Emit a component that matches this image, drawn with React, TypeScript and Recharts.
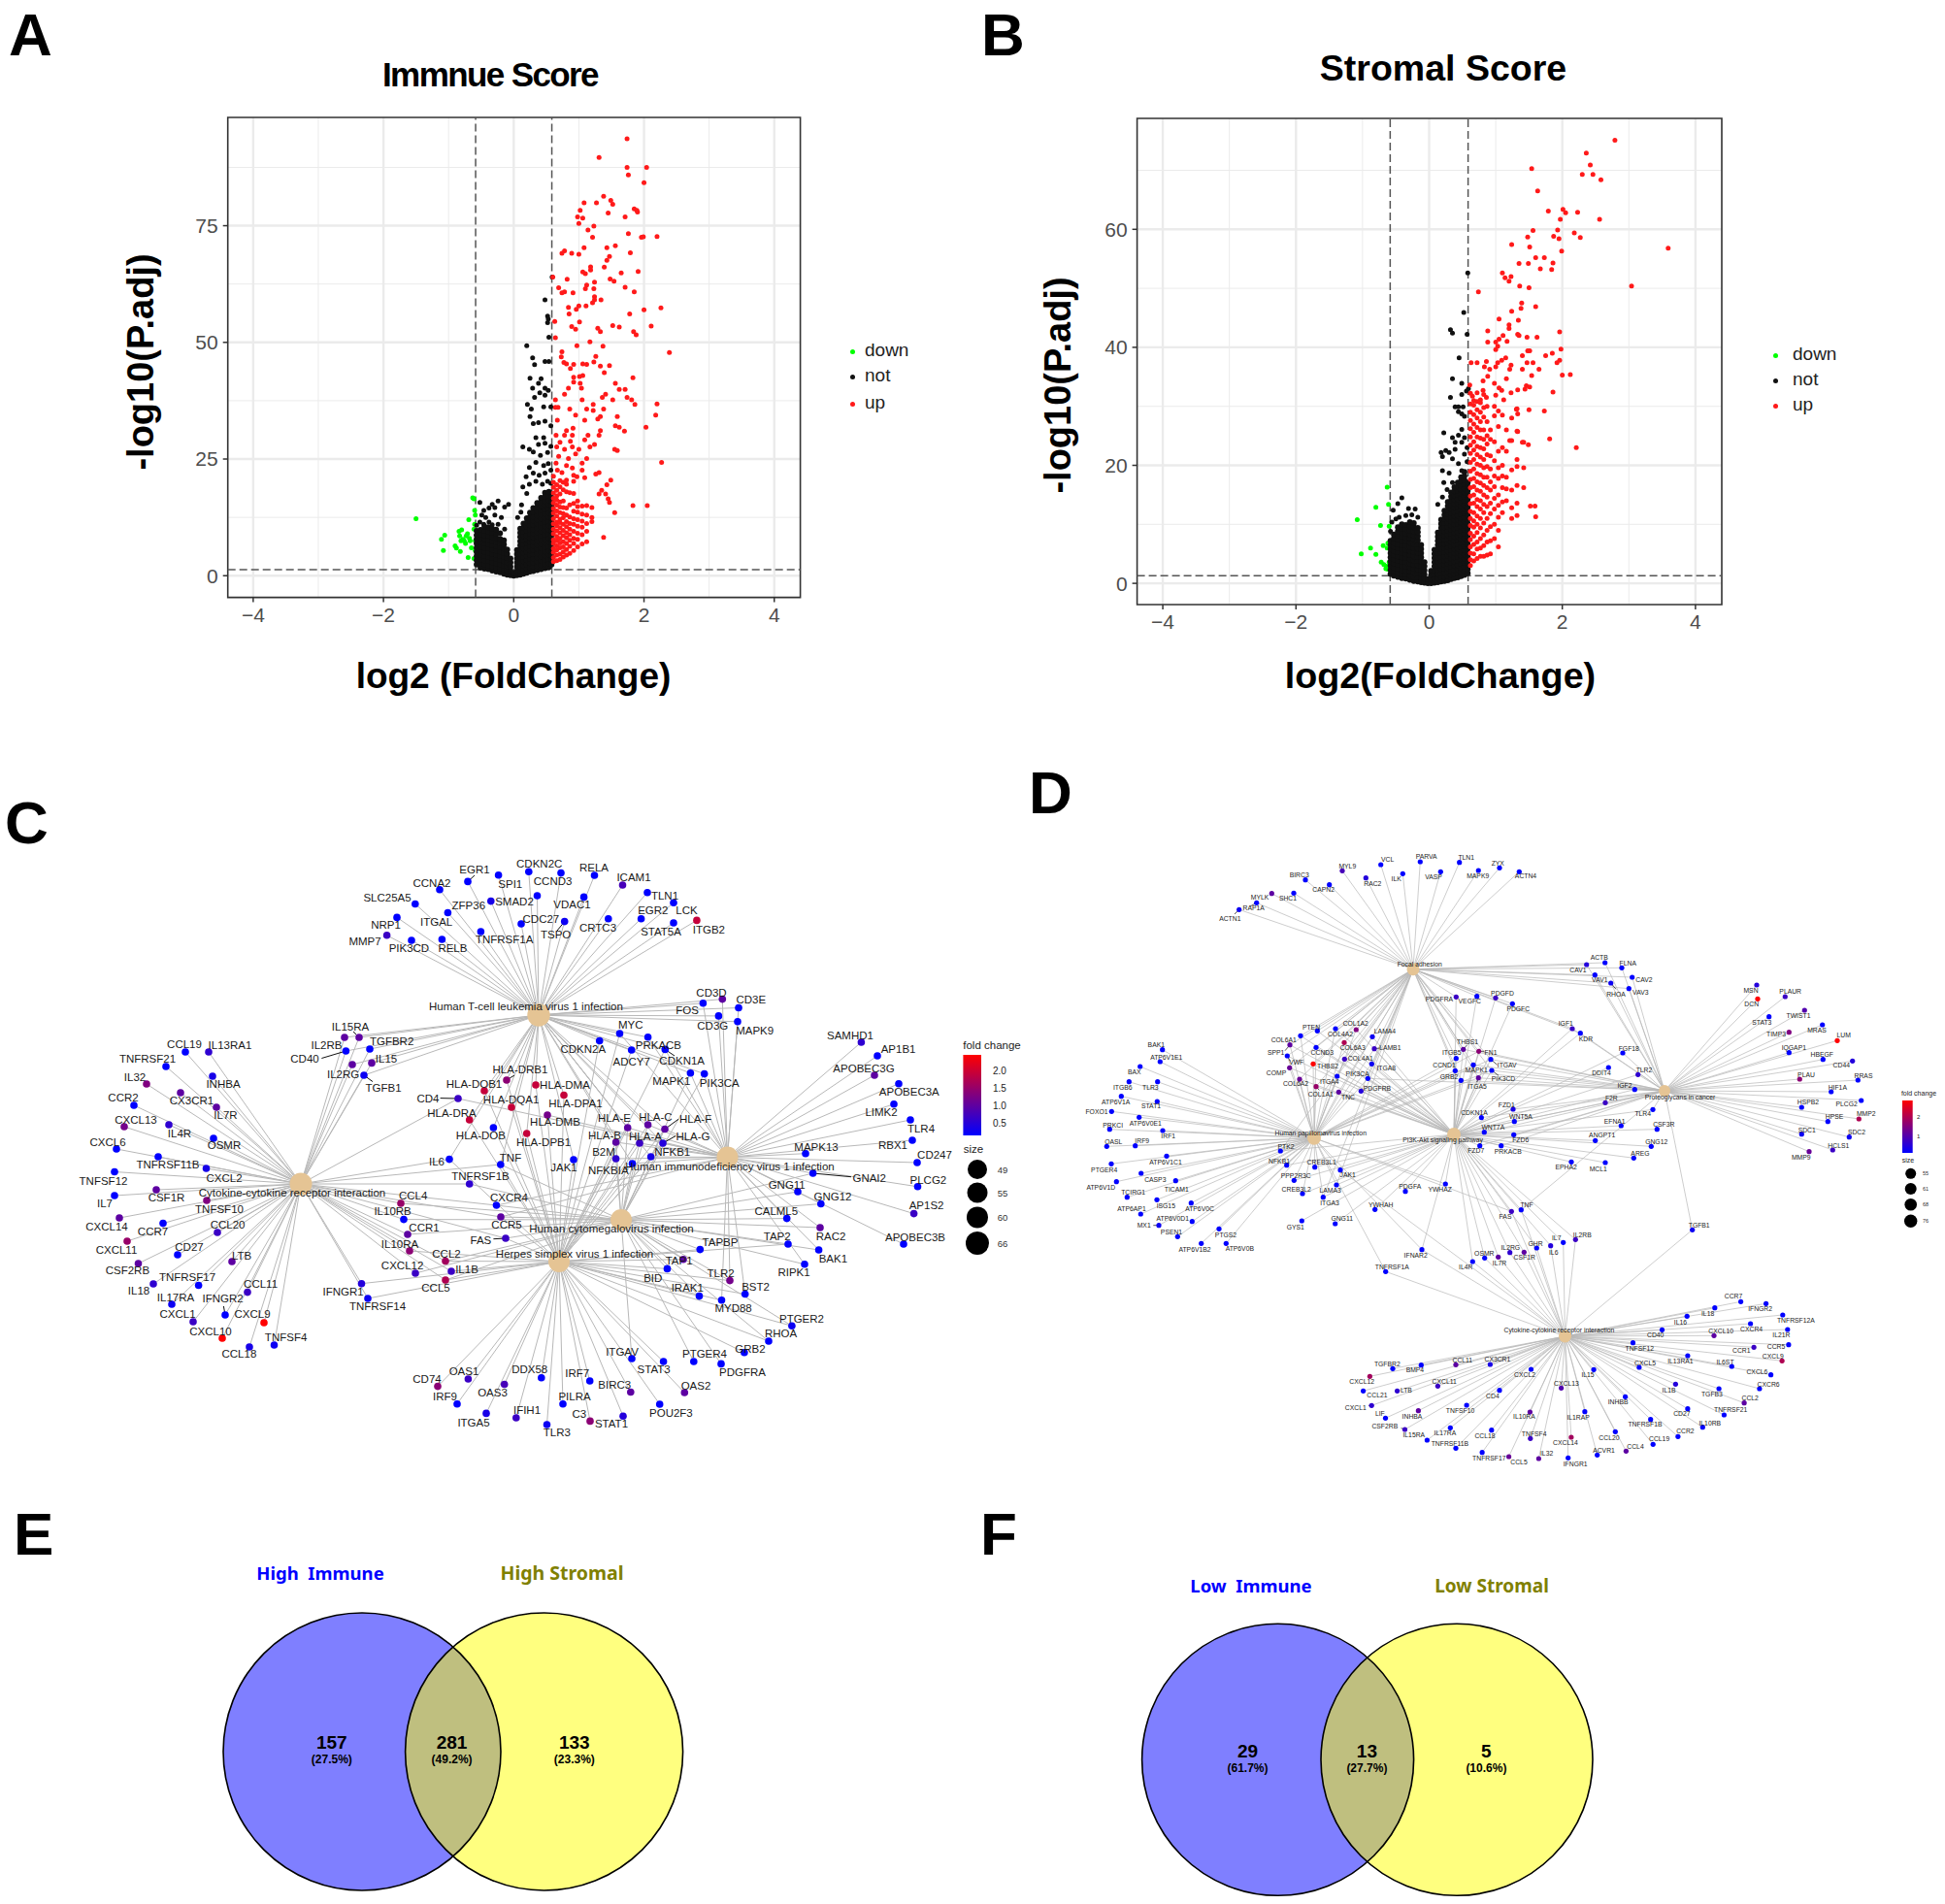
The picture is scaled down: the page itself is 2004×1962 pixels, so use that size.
import {
  CartesianGrid,
  Legend,
  ReferenceArea,
  ReferenceLine,
  Scatter,
  ScatterChart,
  XAxis,
  YAxis,
} from "recharts";

const SANS = "'Liberation Sans', Arial, sans-serif";
const NOTO = "'Noto Sans', sans-serif";

type Col = [number, number[]];
type Pt = [number, number];

// panel A: -log10(P.adj) against log2 fold change
const downA: Pt[] = [[-1.5,12.2],[-1.11,7.8],[-1.06,8.7],[-1.08,5.4],[-.9,6.4],[-.88,5.9],[-.84,9.5],[-.83,8.5],[-.81,7.5],[-.82,5.2],[-.76,7.5],[-.74,6.9],[-.71,9],[-.69,12],[-.68,8],[-.67,7.5],[-.7,3.9],[-.63,16.7],[-.61,16.5],[-.6,14],[-.59,13],[-.6,11],[-.61,10],[-.59,7.5],[-.61,3.7],[-.65,6],[-.78,7.8],[-.73,8.5],[-.59,5.4],[-.8,9.8]];
const notSparseA: Pt[] = [[.59,64],[.48,59.1],[.52,55.6],[.53,55],[.52,54.2],[.54,51.1],[.2,49.3],[.29,46.7],[.32,45.2],[.48,45.9],[.54,45.9],[.25,42.3],[.42,42.2],[.38,41.2],[.29,40.2],[.48,40.2],[.53,39.7],[.4,39.2],[.32,38.2],[.48,38.7],[.21,36.7],[.27,35.7],[.46,36.2],[.57,36.2],[.25,34.1],[.3,32.6],[.38,32.8],[.48,33.1],[.57,32.1],[.34,29.6],[.46,29.6],[.38,28.1],[.14,27.6],[.24,27.1],[.48,28.4],[.3,26.5],[.41,25.8],[.52,26.4],[.57,27.7],[.34,24.3],[.46,23.6],[.24,23.2],[.53,24],[.19,21.2],[.3,22],[.39,21.5],[.48,22],[.57,22.6],[.14,19],[.24,19.6],[.34,20.2],[.44,19.6],[.52,20.2],[.57,19.8],[.2,17.6],[.12,15.2],[-.52,15.7],[-.38,14.5],[-.33,15.3],[-.24,16],[-.08,15.3],[-.14,14.7],[-.49,13],[-.43,12.5],[-.29,13],[-.19,12.5],[-.52,11.5],[-.38,11.5],[-.24,11],[-.57,10.8],[-.46,11],[-.33,10.9],[-.14,10],[-.46,14],[-.29,14.6],[.06,12.5],[.11,13.6]];
const notColsA: Col[] = [
  [-.57,[2.4,3.3,4.2,5.1,6,6.9,7.8,8.7,9.6]],
  [-.51,[1.7,2.6,3.5,4.4,5.3,6.2,7.1,8,8.9,9.8]],
  [-.45,[1.5,2.4,3.3,4.2,5.1,6,6.9,7.8,8.7,9.6,10.5]],
  [-.39,[1.4,2.3,3.2,4.1,5,5.9,6.8,7.7,8.6,9.5,10.4]],
  [-.33,[1.1,2,2.9,3.8,4.7,5.6,6.5,7.4,8.3,9.2,10.1]],
  [-.27,[.9,1.8,2.7,3.6,4.5,5.4,6.3,7.2,8.1,9,9.9]],
  [-.21,[.7,1.6,2.5,3.4,4.3,5.2,6.1,7,7.9,9.1]],
  [-.15,[.4,1.3,2.2,3.1,4,4.9,5.8,6.7,7.6]],
  [-.1,[.2,1.1,2,2.9,3.8,4.7,5.6]],
  [-.05,[.1,1,1.9,2.8,3.7]],
  [0,[0,.6]],
  [.05,[.1,1,1.9,2.8,3.7,4.6,5.5]],
  [.1,[.2,1.1,2,2.9,3.8,4.7,5.6,6.5,7.4,8.3,9.2,10.1]],
  [.15,[.4,1.3,2.2,3.1,4,4.9,5.8,6.7,7.6,8.5,9.4,10.3,11.2]],
  [.2,[.6,1.5,2.4,3.3,4.2,5.1,6,6.9,7.8,8.7,9.6,10.5,11.4,12.3]],
  [.25,[.9,1.8,2.7,3.6,4.5,5.4,6.3,7.2,8.1,9,9.9,10.8,11.7,12.6,13.5]],
  [.3,[1,1.9,2.8,3.7,4.6,5.5,6.4,7.3,8.2,9.1,10,10.9,11.8,12.7,13.6,14.5]],
  [.36,[1.2,2.1,3,3.9,4.8,5.7,6.6,7.5,8.4,9.3,10.2,11.1,12,12.9,13.8,14.7,15.6]],
  [.42,[1.4,2.3,3.2,4.1,5,5.9,6.8,7.7,8.6,9.5,10.4,11.3,12.2,13.1,14,14.9,15.8,16.7]],
  [.48,[1.6,2.5,3.4,4.3,5.2,6.1,7,7.9,8.8,9.7,10.6,11.5,12.4,13.3,14.2,15.1,16,16.9,17.8]],
  [.54,[1.8,2.7,3.6,4.5,5.4,6.3,7.2,8.1,9,9.9,10.8,11.7,12.6,13.5,14.4,15.3,16.2,17.1,18]],
  [.58,[2.4,3.3,4.2,5.1,6,6.9,7.8,8.7,9.6,10.5,11.4,12.3,13.2,14.1,15,15.9,16.8]],
];
const upSparseA: Pt[] = [[1.74,93.6],[1.31,89.6],[1.74,87.5],[2.04,87.5],[1.76,85.9],[2,84.2],[1.38,81.3],[1.27,79.9],[1.08,79.9],[1.49,80.4],[1.52,79.6],[1.85,78.6],[1.89,78.3],[1.9,77.9],[1.45,77.7],[1.71,76.9],[1.02,78.3],[.98,76.9],[1.06,76.6],[1,75.5],[1.23,74.9],[1.14,74.1],[1.21,72.5],[1.76,73.3],[1.96,72.5],[1.99,72.6],[2.2,72.7],[1.56,70.7],[1.43,70.3],[1.08,70.3],[.78,69.6],[.74,69.1],[.89,69.1],[1,68.9],[1.79,69.2],[1.47,68.4],[1.43,67.6],[1.39,66.1],[1.18,66.2],[1.18,65.5],[1.06,65.1],[1.1,64.7],[1.65,64.9],[1.91,65.2],[.6,64],[.82,63.5],[1.48,63.6],[1.54,63.1],[1.24,62.9],[1.12,62.3],[.69,61.7],[1.1,61.5],[1.23,61.5],[1.71,61.8],[1.85,60.8],[.74,60.6],[.78,60.8],[.91,60.6],[1.24,59.8],[1.24,59.1],[1.34,59.1],[1.21,58.5],[1.11,57.8],[1,57.8],[.84,57.5],[.96,57.1],[.85,56.1],[2.26,57.4],[2,57],[1.78,56.1],[.63,54.5],[1.01,54.4],[.89,53.4],[.95,52.8],[1.29,53],[1.33,52.3],[1.52,53.6],[1.62,53.3],[2.11,53.5],[1.84,52.3],[1.88,51.6],[.64,51],[1.17,50.1],[.97,49.3],[1.37,49.2],[2.39,47.8],[.74,48],[1.26,47],[.73,46.9],[.77,45.7],[.81,45.4],[.92,45.3],[1.06,45.4],[1.12,45.3],[1.23,45.8],[1.33,44.9],[1.47,45],[1.39,43.5],[.87,44.4],[1.06,42.9],[1.01,42.7],[.92,42.5],[1.83,42.4],[.92,41.5],[1.02,41.2],[1.04,40.2],[.84,40.2],[1.56,41.2],[1.62,39.9],[1.71,39.9],[1.41,38.9],[1.36,38.2],[1.52,37.7],[1.74,38.2],[1.81,37.7],[.64,37.7],[.78,38.9],[1.05,37.7],[1.22,36.7],[1.86,36.7],[2.2,36.8],[.64,36.1],[.68,36.1],[.86,35.7],[1.12,35.7],[1.22,35.4],[1.38,35.7],[.95,34.4],[2.18,34.4],[1.59,34.1],[1.33,34.1],[1.29,33.6],[.67,33.3],[1.09,33.3],[2.03,31.8],[1.56,32.1],[1.62,31.8],[1.7,31],[.91,31.6],[.81,31.1],[1.33,31.1],[.65,30.1],[1.14,30.1],[.78,30.1],[.9,30.1],[.71,28.6],[.87,28.8],[1.09,29.1],[1.31,30.1],[1.24,28.1],[.66,27.6],[.9,27.6],[.78,27.1],[1,27.1],[1.17,27.6],[1.55,27.1],[1.59,26.8],[.95,26.1],[.69,25.6],[.84,25.1],[2.27,24.3],[1.12,25.1],[.65,24.1],[1.05,24.1],[.9,23.1],[.81,23.6],[.67,22.6],[.74,22.1],[1.05,22.6],[1.31,22.1],[1.26,21.8],[1.09,21],[.97,21.2],[1.49,20.5],[1.43,19.5],[1.35,18.3],[1.31,17.5],[1.41,17.5],[1.45,16.5],[1.47,15.7],[1.55,13.5],[1.83,15],[2.05,15],[1.38,8.2]];
const upColsA: Col[] = [
  [.61,[3,3.9,5,5.8,6.9,7.7,9,10,11.1,12.2,13.4,14.4,15.6,16.6,17.7,18.9,20,21.3]],
  [.66,[3.2,4.4,5.5,6.4,7.5,8.4,9.6,10.7,11.5,12.8,13.9,15.1,16.2,17.1,18.3,19.5]],
  [.71,[3.5,4.6,6,7,8,9.2,10.3,11.4,12.1,13.5,14.7,15.8,17.5,19,20.4]],
  [.76,[4,5.1,6.2,7.3,8.6,9.7,11,12.4,13.3,14.6,16,18.4,20]],
  [.81,[4.4,5.6,6.9,8.1,9.2,10.5,11.6,13,14.5,18,19.6,20.5]],
  [.86,[4.8,6.3,7.6,8.8,10,11.2,12.6,15.2,17.8]],
  [.92,[5.4,6.9,8,9.5,11,12.2,13.8,15.5,17.6,20.2,21.5]],
  [.98,[6.2,7.8,9.1,10.6,12,13.6,14.8,16]],
  [1.05,[6.8,8.8,10.4,11.7,13.2,14.9]],
  [1.12,[7.3,9.5,11.2,13,15]],
  [1.2,[11.6,12.5,14.6]],
];

// panel B
const downB: Pt[] = [[-1.08,10.8],[-1.02,5],[-.88,6],[-.8,4.9],[-.8,12.9],[-.73,9.8],[-.69,6.4],[-.72,3.6],[-.68,3.2],[-.65,2.5],[-.62,2.4],[-.63,16.3],[-.61,13.4],[-.6,9.7],[-.62,6.8],[-.63,6],[-.6,3.6],[-.64,2.9]];
const notSparseB: Pt[] = [[.58,52.6],[.52,45.9],[.32,43],[.35,42.4],[.57,42.2],[.45,38.2],[.35,34.7],[.49,33.9],[.59,33],[.56,32.6],[.49,32],[.32,31.5],[.39,29.9],[.44,29.9],[.51,29.9],[.44,29.1],[.49,28.7],[.53,28.3],[.22,25.5],[.49,26.1],[.44,25.1],[.53,24.7],[.35,24.7],[.49,23.9],[.39,23.9],[.18,22.2],[.25,22.5],[.3,22.2],[.39,22.7],[.2,21.5],[.35,21.1],[.53,21.9],[.44,20.3],[.3,18.7],[.2,19.1],[.49,19.1],[.57,20.6],[.57,23],[.22,17.1],[.35,17.1],[.27,15.9],[.13,13.4],[.2,14.6],[-.41,14.5],[-.47,13.5],[-.54,12.4],[-.31,12.7],[-.21,12.6],[-.35,11.5],[-.45,11.2],[-.26,11.6],[-.17,11.2],[-.56,10.4],[-.5,10.9],[-.58,8.8]];
const notColsB: Col[] = [
  [-.58,[1.6,2.3,3,3.7,4.4,5.1,5.8,6.5,7.2]],
  [-.53,[1.3,2,2.7,3.4,4.1,4.8,5.5,6.2,6.9,7.6,8.3]],
  [-.47,[1.1,1.8,2.5,3.2,3.9,4.6,5.3,6,6.7,7.4,8.1,8.8,9.5]],
  [-.41,[.9,1.6,2.3,3,3.7,4.4,5.1,5.8,6.5,7.2,7.9,8.6,9.3,10]],
  [-.35,[.8,1.5,2.2,2.9,3.6,4.3,5,5.7,6.4,7.1,7.8,8.5,9.2,9.9]],
  [-.29,[.6,1.3,2,2.7,3.4,4.1,4.8,5.5,6.2,6.9,7.6,8.3,9,9.7,10.4]],
  [-.23,[.4,1.1,1.8,2.5,3.2,3.9,4.6,5.3,6,6.7,7.4,8.1,8.8,9.5,10.2]],
  [-.17,[.3,1,1.7,2.4,3.1,3.8,4.5,5.2,5.9,6.6,7.3,8,8.7,9.4]],
  [-.12,[.2,.9,1.6,2.3,3,3.7,4.4,5.1,5.8,6.5]],
  [-.07,[.1,.8,1.5,2.2,2.9,3.6]],
  [-.02,[0,.7]],
  [.03,[0,.7,1.4,2.1]],
  [.08,[.1,.8,1.5,2.2,2.9,3.6,4.3,5,5.7]],
  [.13,[.2,.9,1.6,2.3,3,3.7,4.4,5.1,5.8,6.5,7.2,7.9,8.6]],
  [.18,[.3,1,1.7,2.4,3.1,3.8,4.5,5.2,5.9,6.6,7.3,8,8.7,9.4,10.1,10.8]],
  [.23,[.4,1.1,1.8,2.5,3.2,3.9,4.6,5.3,6,6.7,7.4,8.1,8.8,9.5,10.2,10.9,11.6,12.3]],
  [.28,[.5,1.2,1.9,2.6,3.3,4,4.7,5.4,6.1,6.8,7.5,8.2,8.9,9.6,10.3,11,11.7,12.4,13.1,13.8]],
  [.33,[.7,1.4,2.1,2.8,3.5,4.2,4.9,5.6,6.3,7,7.7,8.4,9.1,9.8,10.5,11.2,11.9,12.6,13.3,14,14.7,15.4]],
  [.38,[.9,1.6,2.3,3,3.7,4.4,5.1,5.8,6.5,7.2,7.9,8.6,9.3,10,10.7,11.4,12.1,12.8,13.5,14.2,14.9,15.6,16.3]],
  [.43,[1,1.7,2.4,3.1,3.8,4.5,5.2,5.9,6.6,7.3,8,8.7,9.4,10.1,10.8,11.5,12.2,12.9,13.6,14.3,15,15.7,16.4,17.1]],
  [.48,[1.2,1.9,2.6,3.3,4,4.7,5.4,6.1,6.8,7.5,8.2,8.9,9.6,10.3,11,11.7,12.4,13.1,13.8,14.5,15.2,15.9,16.6,17.3,18]],
  [.53,[1.4,2.1,2.8,3.5,4.2,4.9,5.6,6.3,7,7.7,8.4,9.1,9.8,10.5,11.2,11.9,12.6,13.3,14,14.7,15.4,16.1,16.8,17.5,18.2,18.9]],
  [.58,[1.7,2.4,3.1,3.8,4.5,5.2,5.9,6.6,7.3,8,8.7,9.4,10.1,10.8,11.5,12.2,12.9,13.6,14.3,15,15.7,16.4,17.1]],
];
const upSparseB: Pt[] = [[2.79,75.1],[2.36,72.9],[2.42,70.9],[1.54,70.3],[2.3,69.3],[2.46,69.3],[2.58,68.4],[1.63,66.5],[1.79,63.1],[2.01,63.4],[2.05,62.8],[2.23,62.9],[1.97,61.7],[2.56,61.7],[1.93,59.9],[1.56,59.8],[1.48,58.7],[2.18,59.4],[2.27,58.6],[1.87,58.8],[1.95,58.4],[1.24,57.4],[1.51,57],[3.59,56.8],[1.99,56.3],[1.6,55.2],[1.73,55.2],[1.35,54.2],[1.49,54.2],[1.86,54.3],[1.67,53.3],[1.84,53.2],[1.1,52.6],[1.23,52],[1.14,51.8],[1.2,51.2],[3.04,50.4],[1.36,50.4],[1.5,50.1],[.74,49.4],[1.39,47.5],[1.6,46.9],[1.38,46.6],[1.24,46.1],[1.05,44.8],[1.34,44.6],[1.2,43.8],[1.2,43.2],[.88,42.8],[1.96,42.6],[1.33,42.2],[1.35,42],[1.11,42],[1.05,41.4],[1.47,41.7],[1.62,41.7],[.88,40.9],[1,40.9],[1.17,41],[1.03,40.2],[1,39.6],[1.48,39.4],[1.51,39.4],[1.98,39.7],[1.85,39],[1.75,38.6],[1.4,38.6],[1.15,38.2],[1.96,37.8],[1.92,37.4],[.63,37.4],[.72,37.4],[.86,37.6],[1.03,37.4],[1.09,37.8],[1.23,37],[1.47,37.4],[1.56,37.4],[.83,36.7],[.91,36.3],[1,36.7],[1.21,36.3],[1.4,36.3],[1.65,36.3],[1.54,35.2],[2,35.3],[2.12,35.4],[.88,35.1],[.98,33.9],[1.16,34.7],[1.46,33.5],[1.51,33.3],[.61,33.6],[.81,34.3],[1.05,33.1],[1.33,32.8],[1.09,32.7],[1.44,32.9],[1.86,32.4],[.72,32.3],[.81,32.7],[1.23,32.3],[1,31.9],[1.12,31.1],[.65,31.7],[.77,31.1],[.86,31.5],[1.73,29.2],[1.5,29.4],[1.31,29.5],[1.33,28.7],[1.81,24.5],[2.21,23],[1.49,23.5],[1.4,23.9],[1.21,24.2],[1.33,25.7],[1.59,13.1],[1.52,13.1],[1.6,11.3]];
const upColsB: Col[] = [
  [.62,[3,4,5.1,6.2,7.4,8.5,9.8,11,12.2,13.5,14.8,16.2,17.6,19,20.5,22,23.4,24.8,26.2,27.6,29,30.4,32.2]],
  [.67,[3.8,5,6.6,8,9.5,10.6,12,13.6,15,16.4,17.8,19.4,21,22.6,24,25.6,27,28.6,30.2,31]],
  [.72,[4.2,5.8,7,8.6,10,11.4,13,14.2,15.8,17.2,18.6,20.2,21.8,23.2,24.8,26.4,28,29.4,30.8]],
  [.77,[4.6,6,7.6,9.4,11,12.6,14,15.6,17,18.4,20,21.4,23,24.6,26,27.4,29,30.6]],
  [.82,[4.6,6.4,8.2,10.2,12,13.4,15,16.6,18,19.6,21,22.8,24.4,26,28.2,29.8,32]],
  [.87,[4.8,7,9,11,13,14.6,16.2,18,19.8,21.8,23.6,25,27.4,30]],
  [.92,[5,7.2,9.6,11.8,13.6,15.8,17.2,19.4,21.6,24.4,26]],
  [.98,[7.6,10,12.6,14.4,16.4,18.2,20.8,24,28.4,30]],
  [1.04,[6.2,9,11.2,13.2,15,17.8,19.6,22.4,26.6,29.2]],
  [1.1,[12,13.8,16.2,18.2,20,23,28.5]],
  [1.16,[14,16,18,22.4,26]],
  [1.24,[11,12.8,15.8,19.2,24.2,28]],
  [1.32,[11.5,13.6,16.6,19.8,21,25.8,29.6]],
  [1.42,[16.2,19.6,23.9]],
];

const xTicks = [-4, -2, 0, 2, 4];
const xMinor = [-3, -1, 1, 3];
const yTicksA = [0, 25, 50, 75];
const yMinorA = [12.5, 37.5, 62.5, 87.5];
const yTicksB = [0, 20, 40, 60];
const yMinorB = [10, 30, 50, 70];
const fcCut = [-0.585, 0.585];
const padjCut = 1.3;

// network layouts: [gene, node x, node y, label x, label y, fold change, hubs]
type Gene = [string, number, number, number, number, number, string];
type Hub = [string, string, number, number, number, number, number];

const hubsC: Hub[] = [
  ["c", "Cytokine-cytokine receptor interaction", 310, 1220, 301, 1229, 11.5],
  ["t", "Human T-cell leukemia virus 1 infection", 555, 1046, 542, 1037, 11.7],
  ["h", "Human immunodeficiency virus 1 infection", 749.5, 1192.5, 752, 1202, 11],
  ["m", "Human cytomegalovirus infection", 640, 1257, 630, 1265.5, 11],
  ["s", "Herpes simplex virus 1 infection", 576, 1300, 592, 1292, 11],
];
const genesC: Gene[] = [
  ["CCL19",191,1084,190,1076,.2,"c"],["IL13RA1",215,1084,237,1077,.6,"c"],["TNFRSF21",171,1099,152,1091,.2,"c"],["INHBA",219,1109,230,1117,.4,"c"],["IL32",151,1117,139,1110,1.3,"c"],["CX3CR1",186,1126,197.5,1134,1,"c"],["IL7R",223,1141,232.5,1149,1,"c"],["CCR2",138,1139,127,1131,.2,"c"],["CXCL13",128,1161,140,1153.5,1.2,"c"],["IL4R",174,1159,185,1168,.6,"c"],["OSMR",220,1173,231,1180,.2,"c"],["CXCL6",120,1184,111,1177,.2,"c"],["TNFRSF11B",163,1192,173,1199.5,.2,"c"],["CXCL2",212.5,1204,231,1214,.4,"c"],["TNFSF12",118,1207.5,106.5,1217,.2,"c"],["CSF1R",161,1226,171.5,1234,1,"c"],["IL7",118,1232,108,1240,.2,"c"],["TNFSF10",213,1237,226,1245.5,1.3,"c"],["CXCL14",123,1255,110,1264,1,"c"],["CCR7",168,1260.6,157.5,1269,.2,"c"],["CCL20",224,1270,234.6,1262,.7,"c"],["CXCL11",131,1279,120,1288,1.5,"c"],["CD27",183,1293,195,1285,.2,"c"],["CSF2RB",142.5,1302,131.4,1309,1,"c"],["LTB",239,1300,249,1293.6,1,"c"],["TNFRSF17",204.6,1324.5,193,1316.4,.2,"c"],["IL18",158,1323,143,1330,.6,"c"],["CCL11",255,1331.6,268.6,1323,.7,"c"],["IL17RA",177,1344,181,1336.5,.3,"c"],["IFNGR2",232,1355,229.6,1338,.2,"c"],["CXCL9",272,1363,260,1354,2.4,"c"],["CXCL1",199,1362,183,1354,.7,"c"],["CXCL10",229,1379,217,1372,2.4,"c"],["TNFSF4",282.5,1386,294.6,1378,.3,"c"],["CCL18",257,1388,246.4,1395,.4,"c"],
  ["IL15RA",370,1069,361,1058,1,"ct"],["IL2RB",355,1069,336.5,1077,1,"ct"],["TGFBR2",381,1081,403.6,1073,.2,"ct"],["CD40",356.4,1083,314,1091.4,.2,"ct"],["IL15",383,1095.4,398,1090.5,1,"ct"],["IL2RG",363,1097,353.6,1106.6,1,"ct"],["TGFB1",375,1108,395,1121,.3,"ct"],["CD4",472,1132,441,1131.6,.7,"ch"],
  ["HLA-DRB1",522,1113,536,1102.4,1.4,"ts"],["HLA-DOB1",499,1124,488.5,1117,1.9,"ts"],["HLA-DMA",552,1118,582,1117.6,1.9,"ts"],["HLA-DQA1",527,1141,526.6,1133,1.9,"ts"],["HLA-DPA1",581,1128.5,593,1136.5,1.9,"ts"],["HLA-DRA",483.7,1154,465.5,1146.6,1.9,"ts"],["HLA-DMB",564,1149,572,1156,1.2,"hs"],["HLA-DOB",508.4,1162,495.4,1170,.2,"ts"],["HLA-DPB1",542.7,1168,560,1177,1.9,"ts"],
  ["HLA-E",646.7,1162,633,1151.7,1,"thms"],["HLA-C",667.6,1159,675.4,1151,1,"thms"],["HLA-F",685,1163.5,716.6,1153,1,"thms"],["HLA-B",634.6,1177,623,1170,1,"thms"],["HLA-A",659,1178,665,1170.6,.7,"thms"],["HLA-G",683,1178,714,1170.6,.5,"thms"],["B2M",634.6,1194,622,1186.6,.6,"hms"],["NFKB1",670.6,1192,692.7,1187,.4,"thms"],["NFKBIA",651.5,1199,626.8,1206.4,.2,"thms"],["JAK1",591,1195,581,1203,.2,"ts"],["TNF",515.8,1200,526,1193,.2,"ctms"],["IL6",463,1194.6,450,1197,.2,"cts"],["TNFRSF1B",483.7,1220,495,1212,.6,"cm"],["CXCR4",511.4,1242,524.5,1233.7,.2,"chm"],["CCR5",516,1254,522,1262,1,"chms"],["FAS",521,1276,495.4,1278,.7,"cms"],["CCL4",413,1240,425.6,1232,1.5,"cm"],["IL10RB",416,1256.6,404.6,1247.7,.2,"cm"],["CCR1",420,1272,437,1264.6,1,"cm"],["IL10RA",422,1289,412,1281.6,1.4,"cs"],["CCL2",459,1299.5,460,1292,1.6,"cms"],["IL1B",465,1310,481,1308,.7,"cs"],["CXCL12",428,1312,414.6,1304,.7,"cm"],["CCL5",459,1319,449,1327,1.7,"cms"],["IFNGR1",372.5,1322.7,353.6,1330.7,.5,"cs"],["TNFRSF14",379,1338,389,1346,.3,"cs"],
  ["EGR1",482,908.4,489,896,.2,"t"],["SPI1",513.6,901.7,525.8,910.5,.2,"t"],["CDKN2C",544.8,898.3,555.7,890.3,.2,"t"],["CCND3",578,899.6,569.6,908.4,.2,"t"],["RELA",612.5,902,612,893.7,.2,"t"],["CCNA2",453,916.8,445,909.7,.2,"t"],["ICAM1",641.5,912,653,903.8,.8,"t"],["SLC25A5",427.8,931.5,399,924.5,.2,"t"],["ZFP36",505.8,928.6,482.8,932.8,.4,"t"],["SMAD2",553.5,923,530,929.4,.2,"t"],["VDAC1",601.6,924.4,589.5,932.4,.2,"t"],["CDC27",537,952,557.4,947,.2,"t"],["TSPO",581.7,949.6,572.6,962.7,.3,"t"],["TLN1",667,919.8,685,923,.2,"t"],["LCK",694,930.3,707.5,938.3,.2,"t"],["EGR2",660.6,946.7,672.8,938.3,.2,"t"],["ITGB2",717.9,948.4,730.4,957.6,1.9,"t"],["STAT5A",694,951,681,959.7,.2,"t"],["CRTC3",626.8,946.7,616,956,.2,"t"],["ITGAL",461.4,940.5,449.6,949.5,.2,"t"],["TNFRSF1A",495.4,960,519.6,968,.2,"t"],["NRP1",409,945.4,397.5,953,.2,"t"],["RELB",455.4,968,466.4,976.7,.2,"t"],["PIK3CD",424,969,421.4,976.7,.2,"t"],["MMP7",398.6,963.8,376,969.6,.7,"t"],
  ["CD3D",744.3,1029.6,733,1022.5,1,"th"],["CD3E",761,1038.5,773.8,1030,.2,"th"],["FOS",724.4,1033.8,708,1040.6,.2,"th"],["CD3G",740.4,1046.9,734.3,1056.5,.2,"th"],["MAPK9",760,1052.8,777.7,1061.6,.2,"th"],["MYC",638.5,1065,649.8,1056,.2,"ths"],["PRKACB",667.6,1068.8,678.4,1076.8,.2,"th"],["CDKN2A",617.7,1072.5,600.8,1081.4,.2,"ts"],["ADCY7",650.7,1082,650.7,1093.6,.2,"ts"],["CDKN1A",685.3,1081.4,702.7,1093,.2,"ths"],["MAPK1",711.4,1105.8,691.8,1113.8,.2,"thm"],["PIK3CA",725.7,1106.6,741.3,1115.9,.2,"thm"],
  ["SAMHD1",887.4,1074,876,1067,.6,"h"],["AP1B1",904,1088,925.6,1081.4,.2,"h"],["APOBEC3G",901,1108,890,1100.7,1,"h"],["APOBEC3A",926,1116.7,936.8,1125,.2,"h"],["LIMK2",921,1137.8,908,1146,.2,"h"],["TLR4",938,1154,949,1162.6,.2,"h"],["RBX1",940,1175,920,1180,.2,"h"],["MAPK13",830,1188.7,841,1181.5,.2,"h"],["CD247",945,1198,963,1190,.2,"h"],["GNAI2",837.6,1209,895.7,1213.5,.2,"hm"],["PLCG2",945.5,1222.8,956.4,1215.6,.2,"h"],["AP1S2",941.6,1250.6,954.6,1242,.7,"h"],["APOBEC3B",931,1282,943,1275.4,.2,"h"],["GNG11",822,1228,810.7,1220.7,.2,"hm"],["GNG12",845.8,1240.5,858,1233,.2,"hm"],["CALML5",810.7,1255.6,799.8,1248,.2,"hm"],["RAC2",845,1265,856,1273.7,1,"hm"],["TAP2",812,1282,800.7,1274,.2,"ms"],["BAK1",843.6,1288,858.4,1297,.2,"hm"],["RIPK1",829,1302.8,818,1311,.2,"hm"],["TAPBP",721.3,1287.6,742,1279.6,.2,"ms"],["TAP1",704,1297.7,699.6,1299.4,1,"ms"],["TLR2",752,1319.6,742.6,1312,1.2,"hms"],["BID",687.5,1307.4,672.8,1317,.2,"ms"],["BST2",767.7,1333.5,778.6,1325.5,.2,"hs"],["IRAK1",720.5,1335.6,708.3,1327,.2,"ms"],["MYD88",743.5,1339.8,755.6,1347.8,.2,"hs"],["PTGER2",815.9,1366.3,826,1359,.3,"ms"],["RHOA",792,1382,804.6,1374,.2,"ms"],["GRB2",766.9,1393.7,773,1390.3,.2,"s"],["PTGER4",714.8,1403,726,1395,.2,"m"],["PDGFRA",743,1405.4,765,1414,.2,"m"],["ITGAV",651,1400,641,1392.8,.2,"m"],["STAT3",683.6,1403,673.6,1411.3,.2,"s"],["OAS2",705.3,1435,717,1428,1,"s"],["POU2F3",679.7,1447,691.4,1455.5,.2,"s"],["BIRC3",649.8,1434.5,633.3,1426.5,1,"s"],["IRF7",607.7,1423,594.7,1414.7,.2,"s"],["PILRA",580,1446.7,592,1439,.2,"s"],["C3",608,1464.4,596.9,1456.8,1.4,"s"],["STAT1",642,1459.3,630,1467.3,.5,"s"],["DDX58",557.8,1419.8,545.7,1411,.2,"s"],["OAS1",482.4,1421,478,1413,.7,"s"],["OAS3",519.7,1426.5,507.5,1435.3,.8,"s"],["CD74",451,1428.6,440,1421,1.4,"s"],["IRF9",471,1446.7,458.5,1438.7,.2,"s"],["ITGA5",501,1456.4,488,1465.6,.4,"s"],["IFIH1",531.8,1461,543,1453.4,.7,"s"],["TLR3",563.5,1468,573.9,1475.7,.3,"s"],
];
const leadersC: [string, number, number][] = [["CD40",331.4,1090.5],["TGFB1",384,1114.6],["CD4",453.6,1131.6],["GNAI2",877,1212.7],["FAS",508.4,1276.7],["HLA-DRB1",530,1108],["HLA-F",699,1153.3],["HLA-G",696,1170.6],["EGR1",489,902],["TSPO",574,959],["IFNGR2",230.4,1346],["IL15RA",364,1063],["CDKN1A",695,1088]];

const hubsD: Hub[] = [
  ["f", "Focal adhesion", 1456, 998.7, 1462.7, 993.3, 6.5],
  ["p", "Human papillomavirus infection", 1354, 1172.7, 1360.7, 1167.7, 7],
  ["a", "PI3K-Akt signaling pathway", 1498, 1169, 1486.5, 1174.7, 7],
  ["g", "Proteoglycans in cancer", 1715, 1124, 1731, 1130.3, 6],
  ["k", "Cytokine-cytokine receptor interaction", 1612.5, 1377, 1606.4, 1370.7, 6.5],
];
const genesD: Gene[] = [
  ["ACTN1",1276.7,937.3,1267.3,946.3,.3,"f"],["RAP1A",1294.7,930.3,1291.7,935.3,.2,"f"],["MYLK",1310.3,920.7,1298,924,1,"f"],["SHC1",1333,920.3,1327,925.7,.2,"f"],["BIRC3",1345,906.7,1338.7,901.7,.2,"f"],["CAPN2",1369.7,911.7,1363.7,916.3,.2,"f"],["MYL9",1383,897.3,1388.3,892.7,.8,"f"],["RAC2",1407.3,904.7,1414.3,910.3,.5,"f"],["VCL",1422.7,891,1429.7,885.7,.2,"f"],["ILK",1445.3,900.3,1438.7,905.7,.2,"f"],["PARVA",1463.3,888,1469.7,882.7,.2,"f"],["VASP",1484.3,898.3,1477,903.3,.2,"f"],["TLN1",1503.7,888.7,1510.7,883,.2,"f"],["MAPK9",1523.3,897,1522.7,902.3,.2,"f"],["ZYX",1545,894.3,1543.3,889.3,.2,"f"],["ACTN4",1565.3,898.3,1572,902.7,.2,"f"],
  ["PTEN",1357.3,1062.3,1351,1058,.2,"fa"],["COL6A1",1340,1067.3,1322.7,1071.7,.2,"fpa"],["COL4A2",1376,1060,1381,1065.3,.2,"fpa"],["COL1A2",1397.3,1061,1396.7,1054.7,1.3,"fpa"],["LAMA4",1414,1068.3,1427,1062.7,.3,"fpa"],["COL6A3",1385,1074.3,1393.7,1079.3,1.7,"fpa"],["LAMB1",1416,1080.7,1432.3,1079.7,.7,"fpa"],["SPP1",1329,1076.7,1314.7,1084,1,"fpa"],["VWF",1326.3,1088,1335.7,1094.3,.2,"fpa"],["CCND3",1356,1079.3,1362.3,1084.3,.2,"fpa"],["COL4A1",1385.3,1091.3,1401.7,1090,.7,"fpa"],["ITGA8",1413.3,1096.3,1428.3,1100,.3,"fpa"],["COMP",1328.7,1100.3,1315,1105.3,1.1,"fpa"],["THBS2",1353,1096.3,1368,1098.7,2.4,"fpa"],["ITGA4",1377.7,1109,1369.7,1114.7,.2,"fpa"],["PIK3CA",1409.3,1111.3,1398.7,1106.3,.2,"fpag"],["COL6A2",1339,1112,1335,1116.7,1.1,"fpa"],["COL1A1",1356,1119.7,1360.7,1127.7,1.5,"fpa"],["TNC",1379.3,1125.3,1389,1130.3,1,"fpa"],["PDGFRB",1402.3,1124.3,1419,1121.7,.5,"fa"],
  ["PDGFRA",1500.3,1027.3,1483,1029.3,.7,"fa"],["VEGFC",1521.7,1026.7,1514.3,1031.7,.2,"fa"],["PDGFD",1541,1028.3,1548,1023.3,.7,"fa"],["PDGFC",1558.3,1034.3,1564.3,1039,.2,"fa"],["IGF1",1620,1060,1613.3,1054.7,.7,"fag"],["KDR",1628.3,1064.7,1634,1070.3,.2,"fag"],["THBS1",1507.7,1081.3,1512,1073.3,1,"fag"],["FN1",1523.7,1083.3,1536,1084.3,1.4,"fpag"],["ITGB5",1500.3,1090.7,1495.7,1084.3,.2,"fpa"],["ITGAV",1536,1091.7,1552.7,1097.7,.2,"fpag"],["CCND1",1499.3,1103.3,1488,1097.7,.2,"fpag"],["MAPK1",1518,1097.3,1521.3,1102.3,.2,"fpag"],["PIK3CD",1537,1103,1549,1111.7,.2,"fpag"],["GRB2",1505.3,1113.3,1493,1109.3,.2,"fag"],["ITGA5",1523.3,1110.7,1522,1119.3,1,"fpag"],
  ["CDKN1A",1526.3,1151.7,1519,1146,.2,"ag"],["FZD1",1559,1143,1552.3,1138,.4,"ag"],["WNT5A",1560.3,1155.7,1567,1150.7,.2,"ag"],["WNT7A",1529.3,1166.7,1538.3,1161.7,.2,"ag"],["FZD6",1559.7,1169.3,1566.7,1174.3,.2,"ag"],["FZD7",1524.7,1180.7,1520.7,1185,.2,"ag"],["PRKACB",1546.7,1180.7,1553.7,1186,.2,"ag"],["FGF18",1672,1085,1678.3,1080,.2,"ag"],["DDIT4",1657.3,1100,1650,1105.7,.2,"a"],["TLR2",1687.7,1107.3,1694,1102.3,.6,"ag"],["IGF2",1684.3,1122.7,1674,1118.7,.2,"ag"],["F2R",1654,1136.3,1660.3,1131,.7,"ag"],["EFNA1",1670.3,1160,1663.7,1155.3,.2,"a"],["TLR4",1703,1143.3,1692.7,1147.3,.2,"ag"],["CSF3R",1707.3,1163.7,1714.3,1158,.2,"a"],["ANGPT1",1643.7,1175.3,1650.7,1169.7,.2,"a"],["GNG12",1701.3,1181.3,1706.7,1176.3,.2,"a"],["AREG",1683.3,1193.3,1690,1188,.2,"a"],["EPHA2",1619,1197.3,1613.7,1202.7,.2,"a"],["MCL1",1654,1198,1646.7,1204,.2,"a"],
  ["ACTB",1653.7,992,1647.7,986.7,.2,"fg"],["CAV1",1634.7,994,1626,999.3,.5,"fg"],["FLNA",1671,997.3,1677.3,992.7,.2,"fg"],["CAV2",1681.7,1007,1694,1009.7,.2,"fg"],["VAV1",1643.3,1004.7,1648.3,1009.7,.2,"fg"],["RHOA",1659.7,1013,1665,1024.3,.3,"fg"],["VAV3",1678.3,1018.7,1690.3,1022.3,.2,"fg"],
  ["MSN",1810,1015,1804,1020,.5,"g"],["DCN",1811,1029.3,1804.7,1034.3,2.4,"g"],["PLAUR",1839.3,1027,1844.7,1021.7,.7,"g"],["STAT3",1822.7,1047.7,1815.3,1053,.2,"g"],["TWIST1",1859.3,1041,1853,1046,.9,"g"],["MRAS",1877.7,1056,1872,1061,.2,"g"],["TIMP3",1843.3,1063.7,1830,1065.7,1.3,"g"],["LUM",1893,1072.3,1899.7,1066.7,2.4,"g"],["IQGAP1",1843.3,1084.7,1848.3,1079.7,.2,"g"],["HBEGF",1878.3,1091.7,1877.3,1086.7,.2,"g"],["CD44",1908.7,1093.3,1897.3,1097,.5,"g"],["PLAU",1854.3,1112,1861,1107.3,1.4,"g"],["RRAS",1914.3,1113,1920,1108,.2,"g"],["HIF1A",1886.7,1125,1893.3,1120,.2,"g"],["PLCG2",1917.7,1134,1902.7,1137,.2,"g"],["HSPB2",1856.3,1141,1863,1135.3,.2,"g"],["MMP2",1915.3,1153,1922.7,1147,1.7,"g"],["HPSE",1883.3,1155.7,1890,1150.7,.2,"g"],["SDC1",1856.3,1168.7,1861.7,1164,.3,"g"],["SDC2",1905.3,1171.7,1913,1166.7,.3,"g"],["HCLS1",1888.3,1185,1894.3,1180.3,.7,"g"],["MMP9",1864,1186.7,1855.7,1192.3,1.1,"g"],["TGFB1",1743.7,1267.3,1750.7,1262.3,.3,"gk"],
  ["BAK1",1197.7,1081.7,1191.3,1076.3,.2,"p"],["ATP6V1E1",1195.3,1094,1201.7,1089,.2,"p"],["BAX",1174.7,1099,1168.7,1104.3,.2,"p"],["ITGB6",1163.3,1114.7,1156.7,1120,.2,"p"],["TLR3",1192.7,1114.7,1185.3,1120,.2,"p"],["ATP6V1A",1155.3,1129.7,1149.7,1135,.2,"p"],["STAT1",1192.3,1135,1186,1139.7,.2,"p"],["FOXO1",1145.3,1145.3,1130,1145.3,.2,"p"],["ATP6V0E1",1173.7,1151.3,1180.3,1157.3,.2,"p"],["PRKCI",1143.3,1163.7,1146.7,1159,.2,"p"],["IRF1",1198,1165,1203.7,1170,.2,"p"],["OASL",1140.3,1181.3,1147.3,1176.7,.2,"p"],["IRF9",1169.7,1180.7,1176.7,1175,.2,"p"],["ATP6V1C1",1202,1191.3,1201,1197,.2,"p"],["PTGER4",1145,1199.3,1137.7,1205,.2,"p"],["CASP3",1175.7,1209,1190.3,1215,.2,"p"],["ATP6V1D",1150.3,1217.7,1134.3,1223,.2,"p"],["TICAM1",1211.3,1216.7,1212.3,1225,.2,"p"],["TCIRG1",1161.3,1233.7,1167.7,1228.7,.2,"p"],["ISG15",1192,1236.3,1201.3,1242.3,.2,"p"],["ATP6AP1",1175.3,1251,1166,1245.7,.2,"p"],["ATP6V0C",1227.3,1239.7,1236,1245.7,.2,"p"],["MX1",1194,1262.7,1178.7,1262.7,.3,"p"],["ATP6V0D1",1228.3,1258.7,1208.3,1255.7,.2,"p"],["PSEN1",1213.3,1274.3,1207,1269.7,.2,"p"],["PTGS2",1256,1266.3,1263,1272.3,.2,"p"],["ATP6V1B2",1237.7,1281.3,1231,1287,.2,"p"],["ATP6V0B",1263.3,1281.3,1277.3,1286.3,.2,"p"],
  ["PTK2",1319.3,1186,1325,1181.7,.2,"fpa"],["NFKB1",1325.7,1200.7,1318,1196,.2,"pa"],["CREB3L1",1354.7,1202.7,1361.7,1197.3,.2,"pa"],["JAK1",1381,1205.7,1388.7,1210.7,.2,"pak"],["PPP2R3C",1333.3,1216.3,1335.3,1211.7,.2,"pa"],["CREB3L2",1342,1230,1335.7,1225,.2,"pa"],["LAMA3",1377,1221,1370.7,1226.7,.2,"fpa"],["ITGA3",1363.3,1233.7,1370,1239,.2,"fpa"],["GYS1",1341.3,1258,1334.7,1264,.2,"a"],["GNG11",1375.7,1261,1382.7,1255.7,.2,"a"],["YWHAH",1416.7,1246.3,1422.7,1241.3,.2,"a"],["PDGFA",1448,1227.7,1452.7,1222,.2,"a"],["YWHAZ",1489.3,1220,1483.7,1225.3,.2,"ap"],["IFNAR2",1465,1287.7,1458.7,1293.3,.2,"pak"],["TNFRSF1A",1427.7,1310.3,1434.3,1305.3,.2,"pk"],
  ["IL4R",1517.3,1300,1510.3,1305.3,.2,"ak"],["OSMR",1529.7,1296.3,1529.3,1291,.2,"ak"],["IL7R",1543.7,1295.3,1545,1301.7,1,"ak"],["IL2RG",1555.7,1290.7,1556.3,1285.3,.6,"ak"],["CSF1R",1570.3,1290.3,1570.7,1295.7,1,"ak"],["GHR",1583.3,1286,1582,1281,.2,"ak"],["IL6",1597.7,1283.7,1600.7,1290.3,.5,"ak"],["IL7",1610.7,1280.3,1603.7,1275.3,.2,"ak"],["IL2RB",1623.3,1277.3,1630.3,1272.3,.7,"ak"],["FAS",1557.3,1248.3,1551,1253.3,.7,"pak"],["TNF",1567.3,1246.7,1573,1241.7,.2,"agk"],
  ["CCR7",1793.6,1341.3,1786,1335.7,.2,"k"],["IL18",1766.8,1347.7,1759.6,1353.3,.2,"k"],["IFNGR2",1819.6,1343.3,1813.6,1348.7,.2,"k"],["IL16",1738.2,1356.3,1731.4,1362,.2,"k"],["TNFRSF12A",1836.8,1355,1850.4,1360.7,.2,"k"],["CXCR4",1803.6,1364,1804.6,1369.3,.2,"k"],["CXCL10",1766,1376.3,1773.2,1371.7,1,"k"],["CD40",1712.5,1370.3,1705.7,1375.3,.2,"k"],["IL21R",1841.8,1370,1835.4,1375.7,.2,"k"],["TNFSF12",1682.5,1383.7,1689.3,1389,.2,"k"],["CCR5",1842.9,1385.7,1830,1387.3,.2,"k"],["CCR1",1807.1,1388.3,1794.3,1391.7,.7,"k"],["CXCL9",1836.1,1402.3,1826.8,1397,1.7,"k"],["IL13RA1",1738.9,1397,1731.4,1402.7,.2,"k"],["IL6ST",1784.3,1408,1777.5,1403.3,.2,"k"],["CXCL5",1688.9,1409,1695,1404.3,.2,"k"],["CXCL6",1824.6,1416.7,1810.4,1413.3,.2,"k"],["IL15",1642.1,1411.3,1636,1416.3,.2,"k"],["CXCL2",1577.5,1411,1571,1416.7,.2,"k"],["CXCL13",1608.6,1430.3,1613.9,1425.7,.9,"k"],["IL1B",1726.4,1426.3,1719.6,1432,.5,"k"],["CXCR6",1812.9,1431,1822.1,1426.7,.2,"k"],["TGFB3",1771.1,1431,1763.9,1436,.2,"k"],["CD4",1545,1432.7,1537.9,1438,.2,"k"],["CXCL11",1481.4,1428.3,1488.2,1423,.7,"k"],["LTB",1439.6,1433.3,1448.9,1432.7,.6,"k"],["CCL21",1404.6,1433.3,1418.9,1437.7,.2,"k"],["CXCL12",1411.4,1418.3,1403.2,1423.7,1.6,"k"],["BMP4",1464.3,1406.7,1457.9,1411.7,.2,"k"],["TGFBR2",1435,1410.3,1429.3,1405.3,.2,"k"],["CCL11",1500,1406.3,1506.8,1401.3,1,"k"],["CX3CR1",1535.4,1406,1542.9,1400.7,.4,"k"],["CXCL1",1413.2,1448.3,1396.8,1450,.6,"k"],["LIF",1427.5,1461.3,1421.8,1456.3,.2,"k"],["INHBA",1461.4,1453.7,1455,1459,1,"k"],["TNFSF10",1511.1,1448,1504.6,1453.7,.2,"k"],["INHBB",1674.6,1439.3,1667.1,1444.3,.2,"k"],["CSF2RB",1447.5,1473,1426.8,1469,.7,"k"],["IL10RA",1576.4,1455,1570.4,1459.7,1,"k"],["IL1RAP",1632.9,1454.7,1626.1,1460,.2,"k"],["TNFRSF1B",1700.7,1462.7,1695,1467.7,.2,"k"],["CD27",1738.9,1451.7,1732.9,1456.7,.2,"k"],["TNFRSF21",1776.4,1458,1783.2,1452.7,.2,"k"],["CCL2",1797.1,1445.7,1803.2,1440.7,1,"k"],["IL17RA",1494.3,1471.3,1488.9,1476.7,.2,"k"],["IL15RA",1470.4,1484,1456.8,1478.3,.2,"k"],["CCL18",1536.8,1473.7,1530,1479.7,.2,"k"],["TNFSF4",1576.8,1482.3,1580.7,1477.7,.7,"k"],["CXCL14",1618.9,1481,1612.9,1486.7,1.6,"k"],["CCL20",1664.3,1475.3,1657.9,1481,.2,"k"],["IL10RB",1754.3,1470.7,1761.8,1466,.2,"k"],["CCR2",1728.9,1480.3,1736.4,1474.7,.2,"k"],["CCL19",1703.2,1488.3,1709.6,1482.7,.2,"k"],["TNFRSF11B",1500,1492.3,1493.9,1487.7,.2,"k"],["TNFRSF17",1527.1,1496.7,1534.3,1502.7,.2,"k"],["CCL5",1554.6,1501,1565,1506.3,1.1,"k"],["IL32",1585.4,1503,1593.6,1497.7,1,"k"],["IFNGR1",1615.7,1502.3,1623.2,1508,.2,"k"],["ACVR1",1645.7,1499.3,1652.5,1494,.2,"k"],["CCL4",1675.4,1495.3,1685,1490.7,1,"k"],
];
const leadersD: [string, number, number][] = [["RAP1A",1288,934],["ACTN1",1272,942],["SPP1",1324,1082.7],["VWF",1329.3,1093.3],["COL1A1",1359.3,1123.3],["MX1",1188.3,1262.7],["ITGAV",1542.7,1097.3],["PIK3CD",1544,1108.3],["RHOA",1665,1019.3],["THBS1",1511.7,1076.7],["FN1",1529.3,1083.3],["ITGA5",1521.7,1115],["LAMB1",1421.7,1080],["CSF2RB",1443.6,1471.7],["CXCL1",1410,1448.3]];

const vennE = { names: ["High  Immune", "High Stromal"], counts: ["157", "281", "133"], pct: ["(27.5%)", "(49.2%)", "(23.3%)"] };
const vennF = { names: ["Low  Immune", "Low Stromal"], counts: ["29", "13", "5"], pct: ["(61.7%)", "(27.7%)", "(10.6%)"] };

const fcTicksC = ["2.0", "1.5", "1.0", "0.5"];
const fcTicksD = ["2", "1"];
const sizesC = [49, 55, 60, 66];
const sizesD = [55, 61, 68, 76];

const toPoints = (pts: Pt[]) => pts.map(([x, y]) => ({ x, y }));
const fromCols = (cols: Col[]) => cols.flatMap(([x, ys]) => ys.map((y) => ({ x, y })));

function fcColor(fc: number) {
  const t = Math.min(1, Math.max(0, (fc - 0.2) / 2.2));
  return `rgb(${Math.round(255 * t)},0,${Math.round(255 * (1 - t))})`;
}

const dot = (r: number, fill: string) => (p: any) => <circle cx={p.cx} cy={p.cy} r={r} fill={fill} />;

function VolcanoLegend({ payload, dotX, textX, rowY }: any) {
  return (
    <div style={{ position: "relative", fontFamily: SANS, fontSize: 19, color: "#222" }}>
      {(payload ?? []).map((item: any, i: number) => (
        <div key={item.value}>
          <span
            style={{
              position: "absolute",
              left: dotX - 2.5,
              top: rowY[i] - 2.5,
              width: 5,
              height: 5,
              borderRadius: 3,
              background: item.color,
            }}
          />
          <span style={{ position: "absolute", left: textX, top: rowY[i] - 12, lineHeight: "22px" }}>
            {item.value}
          </span>
        </div>
      ))}
    </div>
  );
}

function Volcano({ left, box, xDomain, yDomain, yTicks, yMinor, down, notSparse, notDense, upSparse, upDense, legend }: any) {
  const w = 1000;
  const h = 760;
  const yw = 60;
  const xh = 40;
  const major = "#ebebeb";
  return (
    <div style={{ position: "absolute", left, top: 0 }}>
      <ScatterChart
        width={w}
        height={h}
        margin={{ top: box.top, left: box.left - yw, right: w - box.right, bottom: h - box.bottom - xh }}
      >
        <CartesianGrid stroke={major} strokeWidth={1} horizontalValues={yMinor} verticalValues={xMinor} />
        <CartesianGrid stroke={major} strokeWidth={2.4} horizontalValues={yTicks} verticalValues={xTicks} />
        <XAxis
          type="number"
          dataKey="x"
          domain={xDomain}
          ticks={xTicks}
          allowDataOverflow
          height={xh}
          axisLine={false}
          tickLine={{ stroke: "#333", strokeWidth: 1.5 }}
          tickSize={5}
          tickMargin={5}
          tick={{ fill: "#4d4d4d", fontSize: 21, fontFamily: SANS }}
          tickFormatter={(v: number) => (v < 0 ? `\u2212${-v}` : `${v}`)}
        />
        <YAxis
          type="number"
          dataKey="y"
          domain={yDomain}
          ticks={yTicks}
          allowDataOverflow
          width={yw}
          axisLine={false}
          tickLine={{ stroke: "#333", strokeWidth: 1.5 }}
          tickSize={5}
          tickMargin={5}
          tick={{ fill: "#4d4d4d", fontSize: 21, fontFamily: SANS }}
        />
        <Scatter name="down" data={down} fill="#00ff00" isAnimationActive={false} shape={dot(2.5, "#00ff00")} />
        <Scatter name="not" data={notSparse} fill="#111111" isAnimationActive={false} shape={dot(2.5, "#111111")} />
        <Scatter legendType="none" data={notDense} fill="#111111" isAnimationActive={false} shape={dot(3, "#111111")} />
        <Scatter name="up" data={upSparse} fill="#ff1a1a" isAnimationActive={false} shape={dot(2.5, "#ff1a1a")} />
        <Scatter legendType="none" data={upDense} fill="#ff1a1a" isAnimationActive={false} shape={dot(2.5, "#ff1a1a")} />
        {fcCut.map((v) => (
          <ReferenceLine key={v} x={v} stroke="#555" strokeWidth={1.5} strokeDasharray="8 4" />
        ))}
        <ReferenceLine y={padjCut} stroke="#555" strokeWidth={1.5} strokeDasharray="8 4" />
        <ReferenceArea
          x1={xDomain[0]}
          x2={xDomain[1]}
          y1={yDomain[0]}
          y2={yDomain[1]}
          fill="none"
          stroke="#333"
          strokeWidth={1.6}
          ifOverflow="visible"
        />
        <Legend
          layout="vertical"
          align="center"
          verticalAlign="middle"
          wrapperStyle={{ position: "absolute", left: 0, top: 0, width: 0, height: 0 }}
          content={(p: any) => (
            <VolcanoLegend payload={(p.payload ?? []).filter((e: any) => e.type !== "none")} {...legend} />
          )}
        />
      </ScatterChart>
    </div>
  );
}

function Network({ left, top, width, height, genes, hubs, leaders, nodeR, edgeWidth, fontSize, hubFont, bar }: any) {
  const nodes = genes.map((g: Gene) => ({ x: g[1], y: g[2], fc: g[5] }));
  const labels = genes.map((g: Gene) => ({ x: g[3], y: g[4], name: g[0] }));
  const hubNodes = hubs.map((h: Hub) => ({ x: h[2], y: h[3], r: h[6] }));
  const hubLabels = hubs.map((h: Hub) => ({ x: h[4], y: h[5], name: h[1] }));
  const hubAt = Object.fromEntries(hubs.map((h: Hub) => [h[0], h]));
  const edges = genes.flatMap((g: Gene) =>
    g[6].split("").map((k) => ({ key: g[0] + k, a: { x: hubAt[k][2], y: hubAt[k][3] }, b: { x: g[1], y: g[2] } })),
  );
  const geneAt = Object.fromEntries(genes.map((g: Gene) => [g[0], g]));
  const textShape = (size: number) => (p: any) => (
    <text
      x={p.cx}
      y={p.cy}
      textAnchor="middle"
      dominantBaseline="central"
      fontFamily={SANS}
      fontSize={size}
      fill="#1a1a1a"
    >
      {p.payload.name}
    </text>
  );
  return (
    <div style={{ position: "absolute", left, top }}>
      <ScatterChart width={width} height={height} margin={{ top: 0, left: 0, right: 0, bottom: 0 }}>
        <defs>
          <linearGradient id={bar.id} x1="0" y1="0" x2="0" y2="1">
            <stop offset="0%" stopColor="#ff0000" />
            <stop offset="100%" stopColor="#0000ff" />
          </linearGradient>
        </defs>
        <XAxis type="number" dataKey="x" domain={[left, left + width]} allowDataOverflow hide />
        <YAxis type="number" dataKey="y" domain={[top, top + height]} reversed allowDataOverflow hide />
        {edges.map((e: any) => (
          <ReferenceLine key={e.key} segment={[e.a, e.b]} stroke="#b8b8b8" strokeWidth={edgeWidth} ifOverflow="visible" />
        ))}
        {leaders.map((l: [string, number, number]) => (
          <ReferenceLine
            key={l[0]}
            segment={[{ x: geneAt[l[0]][1], y: geneAt[l[0]][2] }, { x: l[1], y: l[2] }]}
            stroke="#111"
            strokeWidth={edgeWidth}
            ifOverflow="visible"
          />
        ))}
        <ReferenceArea
          x1={bar.x1}
          x2={bar.x2}
          y1={bar.y1}
          y2={bar.y2}
          fill={`url(#${bar.id})`}
          stroke="none"
          fillOpacity={1}
          ifOverflow="visible"
        />
        <Scatter
          data={hubNodes}
          isAnimationActive={false}
          shape={(p: any) => <circle cx={p.cx} cy={p.cy} r={p.payload.r} fill="#E5C494" />}
        />
        <Scatter
          data={nodes}
          isAnimationActive={false}
          shape={(p: any) => <circle cx={p.cx} cy={p.cy} r={nodeR} fill={fcColor(p.payload.fc)} />}
        />
        <Scatter
          data={bar.sizeDots}
          isAnimationActive={false}
          shape={(p: any) => <circle cx={p.cx} cy={p.cy} r={p.payload.r} fill="#000" />}
        />
        <Scatter data={labels} isAnimationActive={false} shape={textShape(fontSize)} />
        <Scatter data={hubLabels} isAnimationActive={false} shape={textShape(hubFont)} />
      </ScatterChart>
    </div>
  );
}

function Venn({ left, top, width, height, sets }: any) {
  return (
    <div style={{ position: "absolute", left, top }}>
      <ScatterChart width={width} height={height} margin={{ top: 0, left: 0, right: 0, bottom: 0 }}>
        <XAxis type="number" dataKey="x" domain={[left, left + width]} allowDataOverflow hide />
        <YAxis type="number" dataKey="y" domain={[top, top + height]} reversed allowDataOverflow hide />
        {sets.map((s: any) => (
          <Scatter
            key={s.color}
            data={[s]}
            isAnimationActive={false}
            shape={(p: any) => (
              <circle cx={p.cx} cy={p.cy} r={s.r} fill={s.color} fillOpacity={0.5} stroke="none" />
            )}
          />
        ))}
        {sets.map((s: any) => (
          <Scatter
            key={s.color + "o"}
            data={[s]}
            isAnimationActive={false}
            shape={(p: any) => <circle cx={p.cx} cy={p.cy} r={s.r} fill="none" stroke="#000" strokeWidth={1.6} />}
          />
        ))}
      </ScatterChart>
    </div>
  );
}

function T({ x, y, size, children, bold, fill = "#000", anchor = "middle", font = SANS, spacing, rotate }: any) {
  return (
    <text
      x={x}
      y={y}
      fontSize={size}
      fontWeight={bold ? 700 : 400}
      fill={fill}
      textAnchor={anchor}
      fontFamily={font}
      letterSpacing={spacing}
      style={{ whiteSpace: "pre" }}
      transform={rotate ? `rotate(${rotate} ${x} ${y})` : undefined}
    >
      {children}
    </text>
  );
}

export default function App() {
  const vennTextE = [341.8, 465.6, 591.8];
  const vennTextF = [1285.5, 1408.4, 1531.4];
  return (
    <div
      style={{
        position: "absolute",
        left: 0,
        top: 0,
        width: 2004,
        height: 1962,
        background: "#fff",
        overflow: "hidden",
      }}
    >
      <Volcano
        left={0}
        box={{ left: 234.7, right: 824.6, top: 121, bottom: 615.6 }}
        xDomain={[-4.39, 4.4]}
        yDomain={[-4.65, 98.2]}
        yTicks={yTicksA}
        yMinor={yMinorA}
        down={toPoints(downA)}
        notSparse={toPoints(notSparseA)}
        notDense={fromCols(notColsA)}
        upSparse={toPoints(upSparseA)}
        upDense={fromCols(upColsA)}
        legend={{ dotX: 878, textX: 891, rowY: [362, 388, 416] }}
      />
      <Volcano
        left={1000}
        box={{ left: 171.6, right: 774, top: 122, bottom: 623 }}
        xDomain={[-4.386, 4.395]}
        yDomain={[-3.6, 78.8]}
        yTicks={yTicksB}
        yMinor={yMinorB}
        down={toPoints(downB)}
        notSparse={toPoints(notSparseB)}
        notDense={fromCols(notColsB)}
        upSparse={toPoints(upSparseB)}
        upDense={fromCols(upColsB)}
        legend={{ dotX: 829, textX: 847, rowY: [366, 392, 418] }}
      />
      <Network
        left={0}
        top={860}
        width={1100}
        height={660}
        genes={genesC}
        hubs={hubsC}
        leaders={leadersC}
        nodeR={3.8}
        edgeWidth={1}
        fontSize={11.5}
        hubFont={11.5}
        bar={{
          id: "fcBarC",
          x1: 992.4,
          x2: 1011,
          y1: 1087,
          y2: 1170,
          sizeDots: [
            { x: 1007, y: 1205, r: 10 },
            { x: 1007, y: 1229, r: 10.5 },
            { x: 1007, y: 1254.4, r: 11 },
            { x: 1007, y: 1281, r: 12 },
          ],
        }}
      />
      <Network
        left={1100}
        top={860}
        width={904}
        height={660}
        genes={genesD}
        hubs={hubsD}
        leaders={leadersD}
        nodeR={2.6}
        edgeWidth={0.7}
        fontSize={6.8}
        hubFont={6.8}
        bar={{
          id: "fcBarD",
          x1: 1960,
          x2: 1970.7,
          y1: 1134,
          y2: 1188,
          sizeDots: [
            { x: 1968.7, y: 1209.3, r: 5.5 },
            { x: 1968.7, y: 1225, r: 6 },
            { x: 1968.7, y: 1241.3, r: 6.3 },
            { x: 1968.7, y: 1258.3, r: 6.7 },
          ],
        }}
      />
      <Venn
        left={100}
        top={1640}
        width={700}
        height={322}
        sets={[
          { x: 373, y: 1805, r: 143, color: "#0000ff" },
          { x: 560.6, y: 1805, r: 143, color: "#ffff00" },
        ]}
      />
      <Venn
        left={1100}
        top={1650}
        width={700}
        height={312}
        sets={[
          { x: 1316.6, y: 1813.3, r: 140, color: "#0000ff" },
          { x: 1501, y: 1813.3, r: 140, color: "#ffff00" },
        ]}
      />
      <svg width={2004} height={1962} style={{ position: "absolute", left: 0, top: 0, pointerEvents: "none" }}>
        <T x={9} y={57} size={62} bold anchor="start">A</T>
        <T x={1011} y={57} size={62} bold anchor="start">B</T>
        <T x={5} y={869} size={62} bold anchor="start">C</T>
        <T x={1060} y={838} size={62} bold anchor="start">D</T>
        <T x={14} y={1602} size={62} bold anchor="start">E</T>
        <T x={1010} y={1602} size={62} bold anchor="start">F</T>

        <T x={505} y={89} size={35} bold spacing={-1.6}>Immnue Score</T>
        <T x={1487} y={83} size={37.5} bold>Stromal Score</T>
        <T x={158} y={373} size={38} bold rotate={-90}>-log10(P.adj)</T>
        <T x={1103} y={397} size={38} bold rotate={-90}>-log10(P.adj)</T>
        <T x={529} y={709} size={37} bold>log2 (FoldChange)</T>
        <T x={1484} y={709} size={37.7} bold>log2(FoldChange)</T>

        <T x={1022} y={1081} size={11.5} fill="#222">fold change</T>
        {fcTicksC.map((t, i) => (
          <T key={t} x={1023} y={1107 + i * 18} size={10} anchor="start" fill="#222">{t}</T>
        ))}
        <T x={1003} y={1188} size={11.5} fill="#222">size</T>
        {sizesC.map((t, i) => (
          <T key={t} x={1033} y={[1209, 1233, 1258, 1285][i]} size={9.5} fill="#333">{t}</T>
        ))}
        <T x={1977} y={1129} size={7} fill="#222">fold change</T>
        {fcTicksD.map((t, i) => (
          <T key={t} x={1975} y={1153 + i * 20} size={6} anchor="start" fill="#222">{t}</T>
        ))}
        <T x={1966} y={1198} size={7} fill="#222">size</T>
        {sizesD.map((t, i) => (
          <T key={t} x={1984} y={[1211, 1227, 1243, 1260][i]} size={5.5} fill="#333">{t}</T>
        ))}

        <T x={330} y={1628} size={18.5} bold fill="#0000ff" font={NOTO}>{vennE.names[0]}</T>
        <T x={579} y={1628} size={19.5} bold fill="#808000" font={NOTO}>{vennE.names[1]}</T>
        <T x={1289} y={1641} size={18.5} bold fill="#0000ff" font={NOTO}>{vennF.names[0]}</T>
        <T x={1537} y={1641} size={19} bold fill="#808000" font={NOTO}>{vennF.names[1]}</T>
        {vennE.counts.map((c, i) => (
          <g key={c}>
            <T x={vennTextE[i]} y={1802} size={19} bold>{c}</T>
            <T x={vennTextE[i]} y={1817} size={12} bold>{vennE.pct[i]}</T>
          </g>
        ))}
        {vennF.counts.map((c, i) => (
          <g key={c}>
            <T x={vennTextF[i]} y={1811} size={19} bold>{c}</T>
            <T x={vennTextF[i]} y={1826} size={12} bold>{vennF.pct[i]}</T>
          </g>
        ))}
      </svg>
    </div>
  );
}
